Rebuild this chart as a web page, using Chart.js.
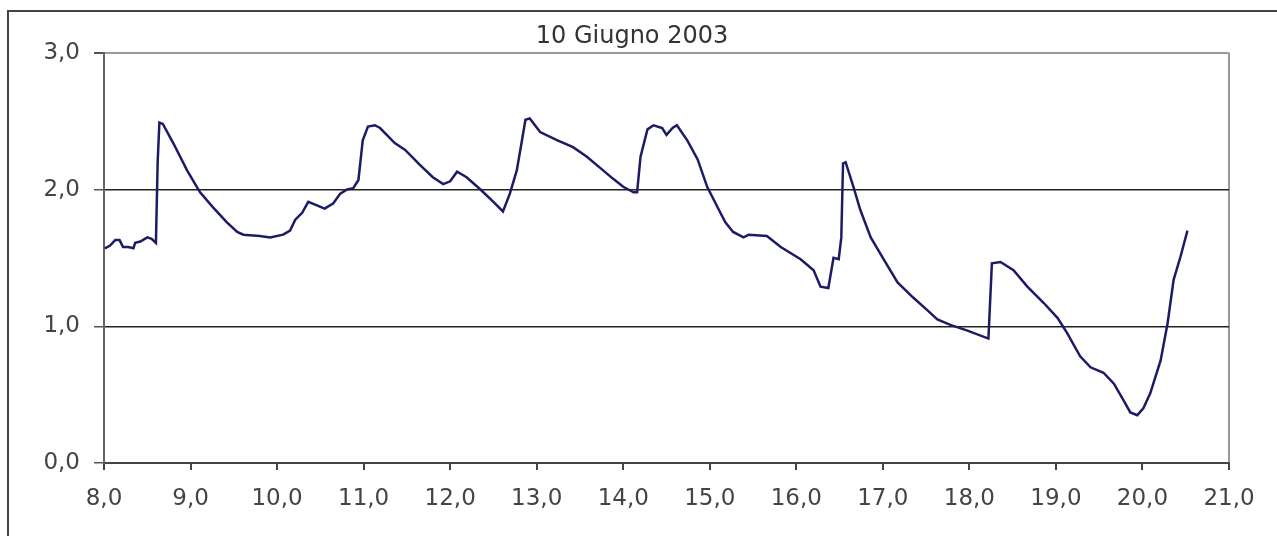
<!DOCTYPE html>
<html>
<head>
<meta charset="utf-8">
<script src="https://cdn.jsdelivr.net/npm/chart.js@4.4.0/dist/chart.umd.min.js"></script>
<style>
    html, body { margin: 0; padding: 0; background: #fff; }
    #wrap { position: relative; width: 1277px; height: 536px; }
    #frame {
        position: absolute; left: 7px; top: 10px; right: -10px; bottom: -10px;
        border-left: 2px solid #444; border-top: 2px solid #444;
    }
    canvas { position: absolute; left: 0; top: 0; }
</style>
</head>
<body>
<div id="wrap">
    <div id="frame"></div>
    <canvas id="chart" width="1277" height="536"></canvas>
</div>
<script>
// ore del giorno (asse x) e valori (asse y)
const hours = [
    8.01, 8.07, 8.13, 8.18, 8.22, 8.28, 8.34, 8.36, 8.42, 8.50, 8.55, 8.60,
    8.62, 8.64, 8.68, 8.80, 8.96, 9.11, 9.26, 9.42, 9.54, 9.61, 9.80, 9.92,
    10.07, 10.15, 10.21, 10.29, 10.36, 10.44, 10.55, 10.65, 10.73, 10.81, 10.88, 10.94,
    10.99, 11.05, 11.13, 11.19, 11.36, 11.48, 11.65, 11.80, 11.92, 12.00, 12.08, 12.19,
    12.35, 12.50, 12.61, 12.69, 12.77, 12.83, 12.87, 12.92, 13.04, 13.24, 13.42, 13.58,
    13.73, 13.88, 14.00, 14.12, 14.16, 14.20, 14.28, 14.35, 14.45, 14.50, 14.57, 14.62,
    14.74, 14.86, 14.97, 15.09, 15.18, 15.27, 15.39, 15.45, 15.66, 15.82, 16.05, 16.20,
    16.28, 16.37, 16.43, 16.49, 16.52, 16.54, 16.57, 16.66, 16.74, 16.86, 17.01, 17.17,
    17.35, 17.51, 17.63, 17.78, 17.97, 18.22, 18.26, 18.36, 18.51, 18.67, 18.86, 19.02,
    19.13, 19.28, 19.40, 19.55, 19.67, 19.78, 19.86, 19.94, 20.01, 20.09, 20.21, 20.29,
    20.36, 20.44, 20.52
];
const values = [
    1.57, 1.59, 1.63, 1.63, 1.58, 1.58, 1.57, 1.61, 1.62, 1.65, 1.64, 1.61,
    2.20, 2.49, 2.48, 2.34, 2.14, 1.98, 1.87, 1.76, 1.69, 1.67, 1.66, 1.65,
    1.67, 1.70, 1.78, 1.83, 1.91, 1.89, 1.86, 1.90, 1.97, 2.00, 2.01, 2.07,
    2.36, 2.46, 2.47, 2.45, 2.34, 2.29, 2.18, 2.09, 2.04, 2.06, 2.13, 2.09,
    2.00, 1.91, 1.84, 1.97, 2.14, 2.36, 2.51, 2.52, 2.42, 2.36, 2.31, 2.24,
    2.16, 2.08, 2.02, 1.98, 1.98, 2.24, 2.44, 2.47, 2.45, 2.40, 2.45, 2.47,
    2.36, 2.22, 2.02, 1.87, 1.76, 1.69, 1.65, 1.67, 1.66, 1.58, 1.49, 1.41,
    1.29, 1.28, 1.50, 1.49, 1.65, 2.19, 2.20, 2.02, 1.85, 1.65, 1.49, 1.32,
    1.21, 1.12, 1.05, 1.01, 0.97, 0.91, 1.46, 1.47, 1.41, 1.29, 1.17, 1.06,
    0.95, 0.78, 0.70, 0.66, 0.58, 0.46, 0.37, 0.35, 0.40, 0.51, 0.75, 1.02,
    1.34, 1.51, 1.70
];
const titleText = '10 Giugno 2003';

const points = hours.map((h, i) => ({ x: h, y: values[i] }));
const comma = v => Number(v).toFixed(1).replace('.', ',');

new Chart(document.getElementById('chart').getContext('2d'), {
    type: 'line',
    data: {
        datasets: [{
            data: points,
            borderColor: '#1c1c66',
            borderWidth: 2.5,
            pointRadius: 0,
            tension: 0,
            fill: false
        }]
    },
    options: {
        responsive: false,
        animation: false,
        layout: { padding: { left: 35, right: 48, top: 0, bottom: 0 } },
        plugins: {
            legend: { display: false },
            tooltip: { enabled: false },
            title: {
                display: true,
                text: titleText,
                color: '#333',
                font: { family: 'DejaVu Sans', size: 24, weight: 'normal', lineHeight: 1.2 },
                padding: { top: 22, bottom: 2 }
            }
        },
        scales: {
            x: {
                type: 'linear',
                min: 8,
                max: 21,
                afterFit: s => {
                    s.height = 73;
                    s.paddingLeft = 0;
                    s.paddingRight = 0;
                },
                ticks: {
                    stepSize: 1,
                    color: '#444',
                    padding: 15,
                    maxRotation: 0,
                    font: { family: 'DejaVu Sans', size: 23 },
                    callback: v => comma(v)
                },
                grid: {
                    color: ctx => ctx.tick && ctx.tick.value === 21 ? '#999' : 'transparent',
                    lineWidth: 2,
                    tickColor: '#444',
                    tickLength: 7
                },
                border: { display: true, color: '#444', width: 2 }
            },
            y: {
                min: 0,
                max: 3,
                afterFit: s => { s.width = 69; },
                ticks: {
                    stepSize: 1,
                    color: '#444',
                    padding: 14,
                    font: { family: 'DejaVu Sans', size: 23 },
                    callback: v => comma(v)
                },
                grid: {
                    color: ctx => {
                        const v = ctx.tick ? ctx.tick.value : null;
                        if (v === 3) return '#999';
                        if (v === 0) return 'transparent';
                        return '#222';
                    },
                    lineWidth: ctx => (ctx.tick && ctx.tick.value === 3) ? 2 : 1.5,
                    tickColor: '#555',
                    tickLength: 10
                },
                border: { display: true, color: '#666', width: 2 }
            }
        }
    }
});
</script>
</body>
</html>
